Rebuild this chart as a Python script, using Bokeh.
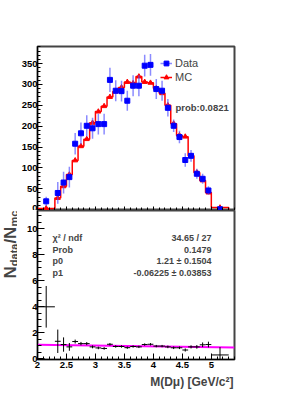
import math
from bokeh.plotting import figure
from bokeh.layouts import column, row
from bokeh.models import (Range1d, Label, Legend, LegendItem, SingleIntervalTicker,
                          NumeralTickFormatter, ColumnDataSource, Title,
                          CustomJSTickFormatter)
from bokeh.embed import file_html
from bokeh.resources import INLINE

# ---------------- data ----------------
bin_edges = [2.0, 2.3, 2.4, 2.5, 2.6, 2.7, 2.8, 2.9, 3.0, 3.1, 3.2, 3.3, 3.4, 3.5,
             3.6, 3.7, 3.8, 3.9, 4.0, 4.1, 4.2, 4.3, 4.4, 4.5, 4.6, 4.7, 4.8, 4.9,
             5.0, 5.3]
data_counts = [20, 40, 65, 78, 158, 183, 201, 195, 205, 205, 311, 285, 284, 261,
               297, 297, 345, 347, 289, 285, 244, 201, 174, 119, 129, 86, 74, 46, 1]
data_errors = [11, 26, 26, 25, 26, 26, 25, 25, 25, 25, 29, 25, 25, 24, 25, 25, 26,
               26, 24, 24, 21, 15, 15, 16, 14, 12, 12, 10, 3]
mc_counts = [3, 28, 56, 84, 118, 152, 169, 208, 235, 248, 270, 283, 293, 306, 303,
             319, 306, 304, 291, 279, 250, 206, 178, 175, 129, 89, 70, 41, 5]
ratio_values = [4.0, 1.35, 1.1, 0.92, 1.33, 1.17, 1.17, 0.92, 0.84, 0.8, 1.12, 0.95,
                0.95, 0.86, 0.95, 0.92, 1.1, 1.12, 0.98, 0.98, 0.92, 0.85, 0.85,
                0.68, 0.92, 0.92, 1.08, 1.1, 0.3]
ratio_errors = [1.6, 0.9, 0.55, 0.3, 0.15, 0.13, 0.12, 0.11, 0.1, 0.1, 0.1, 0.09,
                0.09, 0.09, 0.09, 0.09, 0.09, 0.09, 0.09, 0.09, 0.1, 0.1, 0.1, 0.12,
                0.12, 0.14, 0.18, 0.22, 0.6]
fit_p0 = 1.21
fit_p1 = -0.06225
fit_x = [2.0, 5.4]
stat_names = ["\u03c7\u00b2 / ndf", "Prob", "p0", "p1"]
stat_values = ["34.65 / 27", "0.1479", "1.21 \u00b1 0.1504", "-0.06225 \u00b1 0.03853"]
prob_text = "prob:0.0821"
legend_labels = ["Data", "MC"]
x_title = "M(D\u03bc) [GeV/c\u00b2]"
y_title_parts = ["N", "data", "/N", "mc"]

# ---------------- derived tables ----------------
centers = [(a + b) / 2 for a, b in zip(bin_edges[:-1], bin_edges[1:])]
data_src = ColumnDataSource(dict(
    x=centers, y=data_counts,
    lo=[v - e for v, e in zip(data_counts, data_errors)],
    hi=[v + e for v, e in zip(data_counts, data_errors)]))
mc_src = ColumnDataSource(dict(x=centers, y=mc_counts))
step_x = [bin_edges[0]] + bin_edges
step_y = [0] + mc_counts + [0]
ratio_src = ColumnDataSource(dict(
    x=centers, y=ratio_values,
    left=bin_edges[:-1], right=bin_edges[1:],
    lo=[v - e for v, e in zip(ratio_values, ratio_errors)],
    hi=[v + e for v, e in zip(ratio_values, ratio_errors)]))
fit_y = [fit_p0 + fit_p1 * x for x in fit_x]

FONT = "Liberation Sans"
TW = 17            # width of the strip holding the y title
W = 289
BL = 20
BR = W - BL - 197
X0, X1 = 2.0, 5.4

def style_axes(p):
    p.grid.visible = False
    p.outline_line_color = "#444444"
    p.outline_line_width = 2
    for ax in (p.xaxis[0], p.yaxis[0]):
        ax.axis_line_color = "black"
        ax.major_tick_line_color = "black"
        ax.minor_tick_line_color = "black"
        ax.major_tick_out = 0
        ax.minor_tick_out = 0
        ax.major_label_text_font = FONT
        ax.major_label_text_font_style = "bold"
        ax.major_label_text_font_size = "9.5px"
        ax.major_label_text_color = "black"

# ---------------- upper panel ----------------
up = figure(width=W, height=210, x_range=Range1d(X0, X1), y_range=Range1d(-2, 391),
            output_backend="svg", toolbar_location=None,
            min_border_left=BL, min_border_right=BR, min_border_top=46, min_border_bottom=0)
style_axes(up)
up.yaxis.ticker = SingleIntervalTicker(interval=50, num_minor_ticks=5)
up.yaxis.major_tick_in = 5
up.yaxis.minor_tick_in = 3
up.yaxis.major_label_standoff = 0
up.xaxis.ticker = SingleIntervalTicker(interval=0.5, num_minor_ticks=5)
up.xaxis.formatter = CustomJSTickFormatter(code="return ''")
up.xaxis.major_tick_in = 4
up.xaxis.minor_tick_in = 3
up.xaxis.major_label_standoff = 0

mc_line = up.step(x=step_x, y=step_y, mode="after", line_color="red", line_width=1.5)
mc_pts = up.scatter("x", "y", source=mc_src, marker="triangle", size=5,
                    fill_color="red", line_color="red")
dat_err = up.segment(x0="x", y0="lo", x1="x", y1="hi", source=data_src,
                     line_color="#4d4dff", line_alpha=0.65, line_width=1.5)
dat_pts = up.scatter("x", "y", source=data_src, marker="square", size=5,
                     fill_color="blue", line_color="blue")

legend = Legend(items=[LegendItem(label=legend_labels[0], renderers=[dat_err, dat_pts]),
                       LegendItem(label=legend_labels[1], renderers=[mc_line, mc_pts])],
                location=(123, 127), padding=0, margin=0, spacing=2,
                glyph_width=12, glyph_height=12, label_standoff=3,
                label_text_font=FONT, label_text_font_size="11px",
                border_line_color=None, background_fill_alpha=0)
up.add_layout(legend)

up.add_layout(Label(x=4.38, y=245, text=prob_text, text_font=FONT,
                    text_font_style="bold", text_font_size="9.5px",
                    text_baseline="middle", text_align="left"))

# ---------------- lower panel ----------------
lo = figure(width=W, height=186, x_range=up.x_range, y_range=Range1d(-0.05, 11.4),
            output_backend="svg", toolbar_location=None,
            min_border_left=BL, min_border_right=BR, min_border_top=0, min_border_bottom=37)
style_axes(lo)
lo.yaxis.ticker = SingleIntervalTicker(interval=2, num_minor_ticks=4)
lo.yaxis.major_tick_in = 7
lo.yaxis.minor_tick_in = 4
lo.yaxis.major_label_standoff = 0
lo.xaxis.ticker = SingleIntervalTicker(interval=0.5, num_minor_ticks=5)
lo.xaxis.formatter = NumeralTickFormatter(format="0.[0]")
lo.xaxis.major_tick_in = 6
lo.xaxis.minor_tick_in = 3
lo.xaxis.major_label_standoff = 2

lo.line(fit_x, fit_y, line_color="#ff00ff", line_width=2)
lo.segment(x0="x", y0="lo", x1="x", y1="hi", source=ratio_src, line_color="black", line_width=1)
lo.segment(x0="left", y0="y", x1="right", y1="y", source=ratio_src, line_color="black", line_width=1)

lo.add_layout(Title(text=x_title, align="right", text_font=FONT, text_font_style="bold",
                    text_font_size="12px", standoff=5, offset=1), "below")

# stats text (positions in page pixels converted to lower-panel data units)
def px_x(px):
    return X0 + (px - 37) / (197 / (X1 - X0))

def px_y(py):
    return -0.05 + (359 - py) / (149 / 11.45)

rows = [237.5, 249, 260.7, 272.3]
for name, val, py in zip(stat_names, stat_values, rows):
    lo.add_layout(Label(x=px_x(52), y=px_y(py), text=name, text_font=FONT,
                        text_font_style="bold", text_font_size="9px",
                        text_baseline="middle", text_align="left"))
    lo.add_layout(Label(x=px_x(211), y=px_y(py), text=val, text_font=FONT,
                        text_font_style="bold", text_font_size="9px",
                        text_baseline="middle", text_align="right"))

# ---------------- y title strip (coordinates = page pixels) ----------------
tt = figure(width=TW, height=395, x_range=Range1d(0, TW), y_range=Range1d(395, 0),
            output_backend="svg", toolbar_location=None, x_axis_type=None, y_axis_type=None,
            min_border=0)
tt.grid.visible = False
tt.outline_line_color = None
piece_pos = [(9.5, 278, "17px"), (13, 265.7, "11px"), (9.5, 243.1, "17px"), (13, 226.1, "11px")]
for txt, (px, py, fs) in zip(y_title_parts, piece_pos):
    tt.add_layout(Label(x=px, y=py, text=txt, angle=math.pi / 2,
                        text_font=FONT, text_font_style="bold", text_font_size=fs,
                        text_align="left", text_baseline="middle"))

page = row(tt, column(up, lo, spacing=0), spacing=0)
open("out.html", "w").write(file_html(page, INLINE))
